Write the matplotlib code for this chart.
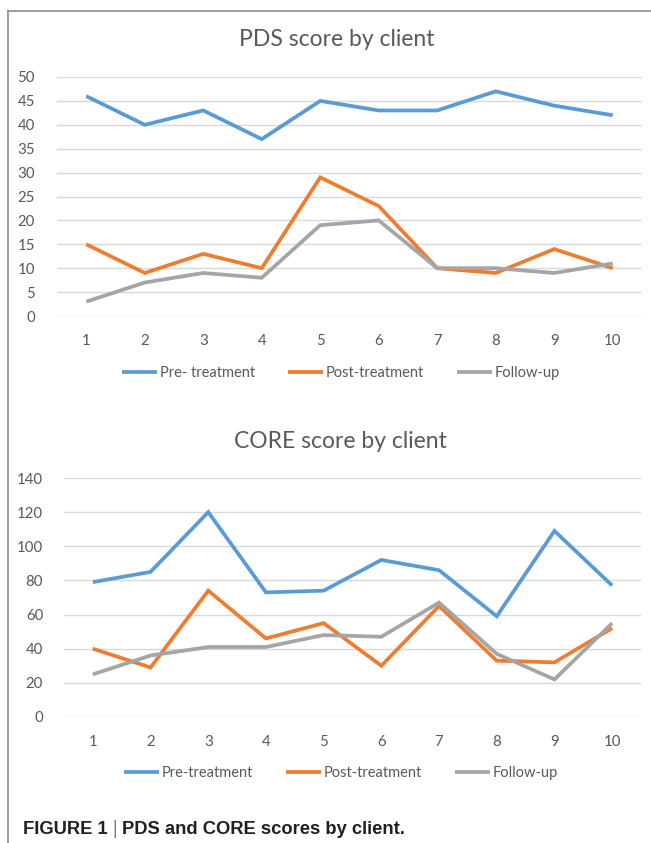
import matplotlib
matplotlib.use("Agg")
import matplotlib.pyplot as plt
from matplotlib.lines import Line2D

clients = [1, 2, 3, 4, 5, 6, 7, 8, 9, 10]

pds_pre = [46, 40, 43, 37, 45, 43, 43, 47, 44, 42]
pds_post = [15, 9, 13, 10, 29, 23, 10, 9, 14, 10]
pds_follow = [3, 7, 9, 8, 19, 20, 10, 10, 9, 11]

core_pre = [79, 85, 120, 73, 74, 92, 86, 59, 109, 77]
core_post = [40, 29, 74, 46, 55, 30, 65, 33, 32, 52]
core_follow = [25, 36, 41, 41, 48, 47, 67, 37, 22, 55]

pds_labels = ["Pre- treatment", "Post-treatment", "Follow-up"]
core_labels = ["Pre-treatment", "Post-treatment", "Follow-up"]

BLUE = "#5B9BD5"
ORANGE = "#ED7D31"
GRAY = "#A5A5A5"
TEXT = "#595959"
GRID = "#D9D9D9"

plt.rcParams["font.family"] = ["Lato", "DejaVu Sans"]

W, H = 651, 843
fig = plt.figure(figsize=(W / 100, H / 100), dpi=100)


def px_axes(left, right, top, bottom):
    return fig.add_axes([left / W, 1 - bottom / H, (right - left) / W, (bottom - top) / H])


def draw_chart(ax, series, labels, ymax, ystep, ypad, legend_y):
    colors = [BLUE, ORANGE, GRAY]
    handles = []
    for vals, lab, col in zip(series, labels, colors):
        (ln,) = ax.plot(clients, vals, color=col, linewidth=2.7, label=lab,
                        solid_joinstyle="miter", solid_capstyle="butt", zorder=3)
        handles.append(ln)
    ax.set_xlim(0.5, 10.5)
    ax.set_ylim(0, ymax)
    ax.set_yticks(range(0, ymax + 1, ystep))
    ax.set_xticks(clients)
    ax.grid(axis="y", color=GRID, linewidth=1.0)
    ax.set_axisbelow(True)
    for s in ax.spines.values():
        s.set_visible(False)
    ax.tick_params(axis="both", length=0, labelsize=10.8, labelcolor=TEXT)
    ax.tick_params(axis="y", pad=ypad)
    ax.tick_params(axis="x", pad=13)
    fig.legend(handles=handles, labels=labels, loc="center",
               bbox_to_anchor=(341 / W, 1 - legend_y / H), ncol=3, frameon=False,
               fontsize=10.5, labelcolor=TEXT, handlelength=2.4, handletextpad=0.15,
               columnspacing=2.3)


ax1 = px_axes(57, 642, 77, 316)
draw_chart(ax1, [pds_pre, pds_post, pds_follow], pds_labels, 50, 5, 16, 373)
fig.text(337 / W, 1 - 40 / H, "PDS score by client", ha="center", va="center",
         fontsize=16.5, color=TEXT)

ax2 = px_axes(64, 641, 478, 717)
draw_chart(ax2, [core_pre, core_post, core_follow], core_labels, 140, 20, 15, 773)
fig.text(340 / W, 1 - 441 / H, "CORE score by client", ha="center", va="center",
         fontsize=16.5, color=TEXT)

# frame round the charts
fig.add_artist(Line2D([7.5 / W, 1], [1 - 10.5 / H, 1 - 10.5 / H], color="#8C8C8C", linewidth=1.2))
fig.add_artist(Line2D([7.5 / W, 7.5 / W], [0, 1 - 10.5 / H], color="#8C8C8C", linewidth=1.2))

# caption
cap_y = 1 - 829 / H
t1 = fig.text(23 / W, cap_y, "FIGURE 1", ha="left", va="center", fontsize=13.2,
              fontweight="bold", family="Liberation Sans", color="#231F20")
fig.canvas.draw()
r = fig.canvas.get_renderer()
bb = t1.get_window_extent(r)
t2 = fig.text((bb.x1 + 4) / W, cap_y, "|", ha="left", va="center", fontsize=13.2,
              fontweight="light", family="DejaVu Sans", color="#231F20")
bb2 = t2.get_window_extent(r)
fig.text((bb2.x1 + 4) / W, cap_y, "PDS and CORE scores by client.", ha="left", va="center",
         fontsize=13.2, fontweight="bold", family="Liberation Sans", color="#231F20")

fig.savefig("out.png", dpi=100)
